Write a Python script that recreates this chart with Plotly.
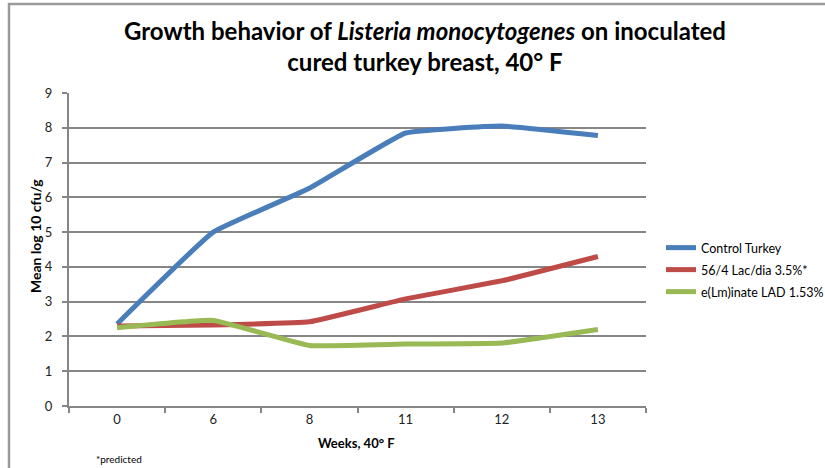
import plotly.graph_objects as go

WEEKS = ["0", "6", "8", "11", "12", "13"]
CONTROL_TURKEY = [2.36, 5.0, 6.26, 7.85, 8.05, 7.78]
LAC_DIA = [2.3, 2.33, 2.42, 3.08, 3.6, 4.3]
ELMINATE_LAD = [2.25, 2.46, 1.74, 1.78, 1.81, 2.2]

SERIES = [
    ("Control Turkey", CONTROL_TURKEY, "#4A7EBB"),
    ("56/4 Lac/dia 3.5%*", LAC_DIA, "#BE4B48"),
    ("e(Lm)inate LAD 1.53%", ELMINATE_LAD, "#98B954"),
]

FONT = "Lato"
GRID = "#868686"

# plot area in pixels
L, R, T, B = 69, 646, 93, 406
W, H = 825, 468
PW, PH = R - L, B - T


def px(x):
    return (x - L) / PW


def py(y):
    return (B - y) / PH


fig = go.Figure()
legend_ids = ["legend", "legend2", "legend3"]
for i, (name, values, color) in enumerate(SERIES):
    fig.add_trace(
        go.Scatter(
            x=WEEKS,
            y=values,
            name=name,
            mode="lines",
            legend=legend_ids[i],
            line=dict(color=color, width=5, shape="spline", smoothing=0.3),
        )
    )

legend_style = dict(
    xanchor="left",
    yanchor="middle",
    font=dict(family=FONT, size=12.5, color="#000000"),
    bgcolor="rgba(0,0,0,0)",
    borderwidth=0,
)
fig.update_layout(
    width=W,
    height=H,
    paper_bgcolor="white",
    plot_bgcolor="white",
    margin=dict(l=L, r=W - R, t=T, b=H - B, autoexpand=False),
    font=dict(family=FONT, color="#222222", size=13),
    legend=dict(x=px(661), y=py(248), **legend_style),
    legend2=dict(x=px(661), y=py(270), **legend_style),
    legend3=dict(x=px(661), y=py(292), **legend_style),
    showlegend=True,
)

fig.update_xaxes(
    type="category",
    range=[-0.5, len(WEEKS) - 0.5],
    automargin=False,
    showgrid=False,
    showline=True,
    linecolor=GRID,
    linewidth=2,
    ticks="outside",
    tickson="boundaries",
    ticklen=5,
    tickcolor=GRID,
    tickwidth=1.5,
    tickfont=dict(size=13, color="#222222"),
)
fig.update_yaxes(
    range=[0, 9],
    dtick=1,
    automargin=False,
    showgrid=True,
    gridcolor=GRID,
    gridwidth=2,
    zeroline=False,
    showline=True,
    linecolor=GRID,
    linewidth=2,
    ticks="outside",
    ticklen=5,
    tickcolor=GRID,
    tickwidth=1.5,
    ticklabelstandoff=7,
    tickfont=dict(size=13, color="#222222"),
)

fig.add_annotation(
    text="<b>Growth behavior of <i>Listeria monocytogenes</i> on inoculated"
    "<br>cured turkey breast, 40° F</b>",
    xref="paper",
    yref="paper",
    x=px(424.5),
    y=py(46),
    xanchor="center",
    yanchor="middle",
    showarrow=False,
    font=dict(family=FONT, size=24, color="#000000"),
)
fig.add_annotation(
    text="<b>Weeks, 40° F</b>",
    xref="paper",
    yref="paper",
    x=px(356),
    y=py(443),
    xanchor="center",
    yanchor="middle",
    showarrow=False,
    font=dict(size=13, color="#000000"),
)
fig.add_annotation(
    text="<b>Mean log 10 cfu/g</b>",
    xref="paper",
    yref="paper",
    x=px(35),
    y=py(236),
    xanchor="center",
    yanchor="middle",
    textangle=-90,
    showarrow=False,
    font=dict(size=14, color="#000000"),
)
fig.add_annotation(
    text="*predicted",
    xref="paper",
    yref="paper",
    x=px(94),
    y=py(459),
    xanchor="left",
    yanchor="middle",
    showarrow=False,
    font=dict(size=10, color="#000000"),
)

# chart area border (Excel style), only top and left edges fall inside the window
fig.add_shape(
    type="rect",
    xref="paper",
    yref="paper",
    x0=px(9),
    x1=1.5,
    y0=-0.5,
    y1=py(4),
    line=dict(color="#9A9A9A", width=2.5),
    layer="below",
)

fig.write_html(
    "out.html",
    config={"displayModeBar": False},
    post_script="document.body.style.margin = '0';",
)
